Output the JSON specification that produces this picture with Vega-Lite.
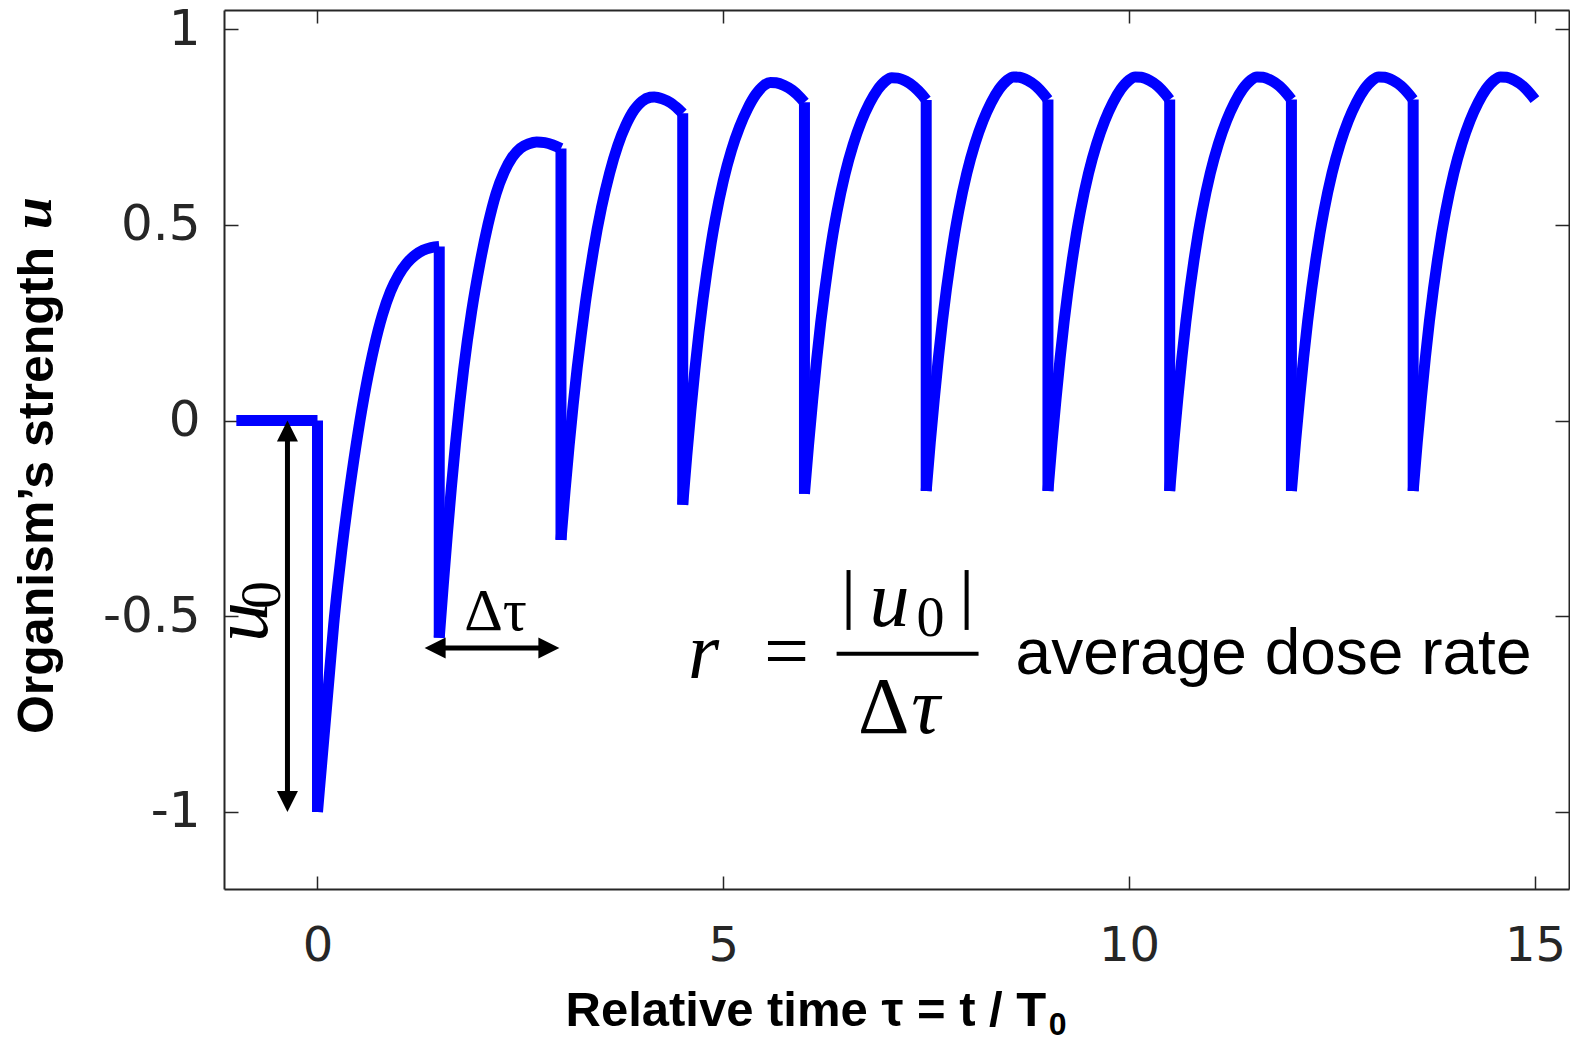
{
  "$schema": "https://vega.github.io/schema/vega-lite/v6.json",
  "width": 1345,
  "height": 879,
  "autosize": {"type": "none"},
  "padding": {"left": 224, "top": 10, "right": 1, "bottom": 152},
  "background": "white",
  "config": {"view": {"stroke": null}, "axis": {"grid": false}},
  "resolve": {"axis": {"x": "independent", "y": "independent"}},
  "layer": [
    {
      "data": {"values": [
        {"t":-1,"u":0,"s":0},{"t":0,"u":0,"s":0},
        {"t":0,"u":-1,"s":1},{"t":0.05,"u":-0.88,"s":1},{"t":0.1,"u":-0.76,"s":1},{"t":0.15,"u":-0.64,"s":1},{"t":0.2,"u":-0.52,"s":1},{"t":0.25,"u":-0.42,"s":1},{"t":0.3,"u":-0.33,"s":1},{"t":0.4,"u":-0.17,"s":1},{"t":0.5,"u":-0.03,"s":1},{"t":0.6,"u":0.09,"s":1},{"t":0.7,"u":0.19,"s":1},{"t":0.8,"u":0.27,"s":1},{"t":0.9,"u":0.33,"s":1},{"t":1.0,"u":0.372,"s":1},{"t":1.1,"u":0.402,"s":1},{"t":1.2,"u":0.422,"s":1},{"t":1.3,"u":0.435,"s":1},{"t":1.4,"u":0.442,"s":1},{"t":1.5,"u":0.445,"s":1},
        {"t":1.5,"u":-0.555,"s":2},{"t":1.55,"u":-0.42,"s":2},{"t":1.6,"u":-0.29,"s":2},{"t":1.65,"u":-0.17,"s":2},{"t":1.7,"u":-0.06,"s":2},{"t":1.75,"u":0.04,"s":2},{"t":1.8,"u":0.13,"s":2},{"t":1.9,"u":0.28,"s":2},{"t":2.0,"u":0.40,"s":2},{"t":2.1,"u":0.50,"s":2},{"t":2.2,"u":0.58,"s":2},{"t":2.3,"u":0.635,"s":2},{"t":2.4,"u":0.673,"s":2},{"t":2.5,"u":0.696,"s":2},{"t":2.6,"u":0.707,"s":2},{"t":2.7,"u":0.712,"s":2},{"t":2.8,"u":0.71,"s":2},{"t":2.9,"u":0.704,"s":2},{"t":3.0,"u":0.695,"s":2},
        {"t":3.0,"u":-0.305,"s":3},{"t":3.05,"u":-0.18,"s":3},{"t":3.1,"u":-0.065,"s":3},{"t":3.15,"u":0.04,"s":3},{"t":3.2,"u":0.135,"s":3},{"t":3.25,"u":0.22,"s":3},{"t":3.3,"u":0.30,"s":3},{"t":3.35,"u":0.37,"s":3},{"t":3.4,"u":0.435,"s":3},{"t":3.5,"u":0.545,"s":3},{"t":3.6,"u":0.633,"s":3},{"t":3.7,"u":0.703,"s":3},{"t":3.8,"u":0.755,"s":3},{"t":3.9,"u":0.793,"s":3},{"t":3.95,"u":0.806,"s":3},{"t":4.0,"u":0.816,"s":3},{"t":4.1,"u":0.826,"s":3},{"t":4.15,"u":0.827,"s":3},{"t":4.25,"u":0.822,"s":3},{"t":4.35,"u":0.812,"s":3},{"t":4.45,"u":0.795,"s":3},{"t":4.5,"u":0.785,"s":3},
        {"t":4.5,"u":-0.215,"s":4},{"t":4.55,"u":-0.09,"s":4},{"t":4.6,"u":0.025,"s":4},{"t":4.65,"u":0.13,"s":4},{"t":4.7,"u":0.225,"s":4},{"t":4.75,"u":0.31,"s":4},{"t":4.8,"u":0.385,"s":4},{"t":4.85,"u":0.453,"s":4},{"t":4.9,"u":0.513,"s":4},{"t":5.0,"u":0.613,"s":4},{"t":5.1,"u":0.69,"s":4},{"t":5.2,"u":0.75,"s":4},{"t":5.3,"u":0.797,"s":4},{"t":5.4,"u":0.833,"s":4},{"t":5.45,"u":0.846,"s":4},{"t":5.5,"u":0.856,"s":4},{"t":5.58,"u":0.864,"s":4},{"t":5.65,"u":0.863,"s":4},{"t":5.75,"u":0.856,"s":4},{"t":5.85,"u":0.844,"s":4},{"t":5.95,"u":0.825,"s":4},{"t":6.0,"u":0.813,"s":4},
        {"t":6.0,"u":-0.187,"s":5},{"t":6.05,"u":-0.063,"s":5},{"t":6.1,"u":0.05,"s":5},{"t":6.15,"u":0.155,"s":5},{"t":6.2,"u":0.25,"s":5},{"t":6.25,"u":0.333,"s":5},{"t":6.3,"u":0.408,"s":5},{"t":6.35,"u":0.475,"s":5},{"t":6.4,"u":0.533,"s":5},{"t":6.5,"u":0.63,"s":5},{"t":6.6,"u":0.705,"s":5},{"t":6.7,"u":0.764,"s":5},{"t":6.8,"u":0.81,"s":5},{"t":6.9,"u":0.845,"s":5},{"t":6.95,"u":0.858,"s":5},{"t":7.0,"u":0.868,"s":5},{"t":7.075,"u":0.876,"s":5},{"t":7.15,"u":0.875,"s":5},{"t":7.25,"u":0.867,"s":5},{"t":7.35,"u":0.853,"s":5},{"t":7.45,"u":0.832,"s":5},{"t":7.5,"u":0.819,"s":5},
        {"t":7.5,"u":-0.18,"s":6},{"t":7.55,"u":-0.056,"s":6},{"t":7.6,"u":0.056,"s":6},{"t":7.65,"u":0.16,"s":6},{"t":7.7,"u":0.254,"s":6},{"t":7.75,"u":0.337,"s":6},{"t":7.8,"u":0.411,"s":6},{"t":7.85,"u":0.477,"s":6},{"t":7.9,"u":0.535,"s":6},{"t":8.0,"u":0.632,"s":6},{"t":8.1,"u":0.707,"s":6},{"t":8.2,"u":0.766,"s":6},{"t":8.3,"u":0.812,"s":6},{"t":8.4,"u":0.847,"s":6},{"t":8.45,"u":0.86,"s":6},{"t":8.5,"u":0.87,"s":6},{"t":8.575,"u":0.878,"s":6},{"t":8.65,"u":0.877,"s":6},{"t":8.75,"u":0.869,"s":6},{"t":8.85,"u":0.855,"s":6},{"t":8.95,"u":0.833,"s":6},{"t":9.0,"u":0.82,"s":6},
        {"t":9.0,"u":-0.18,"s":7},{"t":9.05,"u":-0.056,"s":7},{"t":9.1,"u":0.056,"s":7},{"t":9.15,"u":0.16,"s":7},{"t":9.2,"u":0.254,"s":7},{"t":9.25,"u":0.337,"s":7},{"t":9.3,"u":0.411,"s":7},{"t":9.35,"u":0.477,"s":7},{"t":9.4,"u":0.535,"s":7},{"t":9.5,"u":0.632,"s":7},{"t":9.6,"u":0.707,"s":7},{"t":9.7,"u":0.766,"s":7},{"t":9.8,"u":0.812,"s":7},{"t":9.9,"u":0.847,"s":7},{"t":9.95,"u":0.86,"s":7},{"t":10.0,"u":0.87,"s":7},{"t":10.075,"u":0.878,"s":7},{"t":10.15,"u":0.877,"s":7},{"t":10.25,"u":0.869,"s":7},{"t":10.35,"u":0.855,"s":7},{"t":10.45,"u":0.833,"s":7},{"t":10.5,"u":0.82,"s":7},
        {"t":10.5,"u":-0.18,"s":8},{"t":10.55,"u":-0.056,"s":8},{"t":10.6,"u":0.056,"s":8},{"t":10.65,"u":0.16,"s":8},{"t":10.7,"u":0.254,"s":8},{"t":10.75,"u":0.337,"s":8},{"t":10.8,"u":0.411,"s":8},{"t":10.85,"u":0.477,"s":8},{"t":10.9,"u":0.535,"s":8},{"t":11.0,"u":0.632,"s":8},{"t":11.1,"u":0.707,"s":8},{"t":11.2,"u":0.766,"s":8},{"t":11.3,"u":0.812,"s":8},{"t":11.4,"u":0.847,"s":8},{"t":11.45,"u":0.86,"s":8},{"t":11.5,"u":0.87,"s":8},{"t":11.575,"u":0.878,"s":8},{"t":11.65,"u":0.877,"s":8},{"t":11.75,"u":0.869,"s":8},{"t":11.85,"u":0.855,"s":8},{"t":11.95,"u":0.833,"s":8},{"t":12.0,"u":0.82,"s":8},
        {"t":12.0,"u":-0.18,"s":9},{"t":12.05,"u":-0.056,"s":9},{"t":12.1,"u":0.056,"s":9},{"t":12.15,"u":0.16,"s":9},{"t":12.2,"u":0.254,"s":9},{"t":12.25,"u":0.337,"s":9},{"t":12.3,"u":0.411,"s":9},{"t":12.35,"u":0.477,"s":9},{"t":12.4,"u":0.535,"s":9},{"t":12.5,"u":0.632,"s":9},{"t":12.6,"u":0.707,"s":9},{"t":12.7,"u":0.766,"s":9},{"t":12.8,"u":0.812,"s":9},{"t":12.9,"u":0.847,"s":9},{"t":12.95,"u":0.86,"s":9},{"t":13.0,"u":0.87,"s":9},{"t":13.075,"u":0.878,"s":9},{"t":13.15,"u":0.877,"s":9},{"t":13.25,"u":0.869,"s":9},{"t":13.35,"u":0.855,"s":9},{"t":13.45,"u":0.833,"s":9},{"t":13.5,"u":0.82,"s":9},
        {"t":13.5,"u":-0.18,"s":10},{"t":13.55,"u":-0.056,"s":10},{"t":13.6,"u":0.056,"s":10},{"t":13.65,"u":0.16,"s":10},{"t":13.7,"u":0.254,"s":10},{"t":13.75,"u":0.337,"s":10},{"t":13.8,"u":0.411,"s":10},{"t":13.85,"u":0.477,"s":10},{"t":13.9,"u":0.535,"s":10},{"t":14.0,"u":0.632,"s":10},{"t":14.1,"u":0.707,"s":10},{"t":14.2,"u":0.766,"s":10},{"t":14.3,"u":0.812,"s":10},{"t":14.4,"u":0.847,"s":10},{"t":14.45,"u":0.86,"s":10},{"t":14.5,"u":0.87,"s":10},{"t":14.575,"u":0.878,"s":10},{"t":14.65,"u":0.877,"s":10},{"t":14.75,"u":0.869,"s":10},{"t":14.85,"u":0.855,"s":10},{"t":14.95,"u":0.833,"s":10},{"t":15.0,"u":0.82,"s":10}
      ]},
      "mark": {"type": "line", "color": "#0000ff", "strokeWidth": 11, "interpolate": "monotone", "strokeCap": "butt", "strokeJoin": "round"},
      "encoding": {
        "x": {"field": "t", "type": "quantitative", "scale": {"domain": [-1.152, 15.42], "nice": false, "zero": false},
          "axis": {"orient": "bottom", "values": [0, 5, 10, 15], "grid": false, "domain": true, "domainColor": "#262626", "domainWidth": 2, "ticks": true, "tickSize": -13, "tickWidth": 1.5, "tickColor": "#262626", "labelFont": "DejaVu Sans", "labelFontSize": 48, "labelColor": "#262626", "labelPadding": 46, "labelFlush": false, "labelOverlap": false, "format": "d",
            "title": "Relative time τ = t / T", "titleFont": "Liberation Sans", "titleFontSize": 49, "titleFontWeight": "bold", "titleColor": "#000000", "titleX": 341, "titleY": 136, "titleAlign": "left", "titleBaseline": "alphabetic", "titleAngle": 0}},
        "y": {"field": "u", "type": "quantitative", "scale": {"domain": [-1.197, 1.049], "nice": false, "zero": false},
          "axis": {"orient": "left", "values": [-1, -0.5, 0, 0.5, 1], "labelExpr": "toString(datum.value)", "grid": false, "domain": true, "domainColor": "#262626", "domainWidth": 2, "ticks": true, "tickSize": -14, "tickWidth": 1.5, "tickColor": "#262626", "labelFont": "DejaVu Sans", "labelFontSize": 50, "labelColor": "#262626", "labelPadding": 38, "labelOverlap": false, "labelFlush": false,
            "title": "Organism’s strength", "titleFont": "Liberation Sans", "titleFontSize": 50, "titleFontWeight": "bold", "titleColor": "#000000", "titleX": -172, "titleY": 480, "titleAngle": 270, "titleAlign": "center", "titleBaseline": "alphabetic"}},
        "detail": {"field": "s", "type": "nominal"}
      }
    },
    {
      "data": {"values": [
        {"t": 0, "u": 0, "u2": -1},
        {"t": 1.5, "u": 0.445, "u2": -0.555},
        {"t": 3.0, "u": 0.695, "u2": -0.305},
        {"t": 4.5, "u": 0.785, "u2": -0.215},
        {"t": 6.0, "u": 0.813, "u2": -0.187},
        {"t": 7.5, "u": 0.819, "u2": -0.18},
        {"t": 9.0, "u": 0.82, "u2": -0.18},
        {"t": 10.5, "u": 0.82, "u2": -0.18},
        {"t": 12.0, "u": 0.82, "u2": -0.18},
        {"t": 13.5, "u": 0.82, "u2": -0.18}
      ]},
      "mark": {"type": "rule", "color": "#0000ff", "strokeWidth": 11, "strokeCap": "butt"},
      "encoding": {
        "x": {"field": "t", "type": "quantitative", "scale": {"domain": [-1.152, 15.42], "nice": false, "zero": false},
          "axis": {"orient": "top", "values": [0, 5, 10, 15], "labels": false, "title": null, "grid": false, "domain": true, "domainColor": "#262626", "domainWidth": 2, "ticks": true, "tickSize": -13, "tickWidth": 1.5, "tickColor": "#262626"}},
        "y": {"field": "u", "type": "quantitative", "scale": {"domain": [-1.197, 1.049], "nice": false, "zero": false},
          "axis": {"orient": "right", "values": [-1, -0.5, 0, 0.5, 1], "labels": false, "title": null, "grid": false, "domain": true, "domainColor": "#262626", "domainWidth": 2, "ticks": true, "tickSize": -14, "tickWidth": 1.5, "tickColor": "#262626"}},
        "y2": {"field": "u2"}
      }
    },
    {
      "data": {"values": [
        {"t": -0.37, "t2": -0.37, "u": -0.026, "u2": -0.974},
        {"t": 1.443, "t2": 2.857, "u": -0.581, "u2": -0.581}
      ]},
      "mark": {"type": "rule", "color": "#000000", "strokeWidth": 5, "strokeCap": "butt"},
      "encoding": {
        "x": {"field": "t", "type": "quantitative", "scale": {"domain": [-1.152, 15.42], "nice": false, "zero": false}, "axis": null},
        "x2": {"field": "t2"},
        "y": {"field": "u", "type": "quantitative", "scale": {"domain": [-1.197, 1.049], "nice": false, "zero": false}, "axis": null},
        "y2": {"field": "u2"}
      }
    },
    {
      "data": {"values": [
        {"t": 6.396, "t2": 8.145, "u": -0.596, "u2": -0.596},
        {"t": 6.543, "t2": 6.543, "u": -0.382, "u2": -0.535},
        {"t": 7.998, "t2": 7.998, "u": -0.382, "u2": -0.535}
      ]},
      "mark": {"type": "rule", "color": "#000000", "strokeWidth": 4, "strokeCap": "butt"},
      "encoding": {
        "x": {"field": "t", "type": "quantitative", "scale": {"domain": [-1.152, 15.42], "nice": false, "zero": false}, "axis": null},
        "x2": {"field": "t2"},
        "y": {"field": "u", "type": "quantitative", "scale": {"domain": [-1.197, 1.049], "nice": false, "zero": false}, "axis": null},
        "y2": {"field": "u2"}
      }
    },
    {
      "data": {"values": [
        {"t": -0.37, "u": 0, "dir": "up"},
        {"t": -0.37, "u": -1, "dir": "down"},
        {"t": 1.32, "u": -0.581, "dir": "left"},
        {"t": 2.98, "u": -0.581, "dir": "right"}
      ]},
      "mark": {"type": "point", "filled": true, "color": "#000000", "opacity": 1, "size": 441, "strokeWidth": 0},
      "encoding": {
        "x": {"field": "t", "type": "quantitative", "scale": {"domain": [-1.152, 15.42], "nice": false, "zero": false}, "axis": null},
        "y": {"field": "u", "type": "quantitative", "scale": {"domain": [-1.197, 1.049], "nice": false, "zero": false}, "axis": null},
        "shape": {"field": "dir", "type": "nominal", "legend": null,
          "scale": {"domain": ["up", "down", "left", "right"], "range": ["M0,0L1,2L-1,2Z", "M0,0L1,-2L-1,-2Z", "M0,0L2,-1L2,1Z", "M0,0L-2,-1L-2,1Z"]}}
      }
    },
    {
      "data": {"values": [
        {"t": 4.757, "u": -0.658, "txt": "r"},
        {"t": 7.049, "u": -0.525, "txt": "u"},
        {"t": 7.492, "u": -0.798, "txt": "τ"}
      ]},
      "mark": {"type": "text", "font": "Liberation Serif", "fontStyle": "italic", "fontSize": 80, "color": "#000000", "align": "center", "baseline": "alphabetic"},
      "encoding": {
        "x": {"field": "t", "type": "quantitative", "scale": {"domain": [-1.152, 15.42], "nice": false, "zero": false}, "axis": null},
        "y": {"field": "u", "type": "quantitative", "scale": {"domain": [-1.197, 1.049], "nice": false, "zero": false}, "axis": null},
        "text": {"field": "txt"}
      }
    },
    {
      "data": {"values": [
        {"t": 5.779, "u": -0.658, "txt": "="},
        {"t": 6.975, "u": -0.798, "txt": "Δ"}
      ]},
      "mark": {"type": "text", "font": "Liberation Serif", "fontSize": 80, "color": "#000000", "align": "center", "baseline": "alphabetic"},
      "encoding": {
        "x": {"field": "t", "type": "quantitative", "scale": {"domain": [-1.152, 15.42], "nice": false, "zero": false}, "axis": null},
        "y": {"field": "u", "type": "quantitative", "scale": {"domain": [-1.197, 1.049], "nice": false, "zero": false}, "axis": null},
        "text": {"field": "txt"}
      }
    },
    {
      "data": {"values": [
        {"t": 7.554, "u": -0.55, "txt": "0"}
      ]},
      "mark": {"type": "text", "font": "Liberation Serif", "fontSize": 56, "color": "#000000", "align": "center", "baseline": "alphabetic"},
      "encoding": {
        "x": {"field": "t", "type": "quantitative", "scale": {"domain": [-1.152, 15.42], "nice": false, "zero": false}, "axis": null},
        "y": {"field": "u", "type": "quantitative", "scale": {"domain": [-1.197, 1.049], "nice": false, "zero": false}, "axis": null},
        "text": {"field": "txt"}
      }
    },
    {
      "data": {"values": [
        {"t": 2.193, "u": -0.535, "txt": "Δτ"}
      ]},
      "mark": {"type": "text", "font": "Liberation Serif", "fontSize": 60, "color": "#000000", "align": "center", "baseline": "alphabetic"},
      "encoding": {
        "x": {"field": "t", "type": "quantitative", "scale": {"domain": [-1.152, 15.42], "nice": false, "zero": false}, "axis": null},
        "y": {"field": "u", "type": "quantitative", "scale": {"domain": [-1.197, 1.049], "nice": false, "zero": false}, "axis": null},
        "text": {"field": "txt"}
      }
    },
    {
      "data": {"values": [
        {"t": -0.628, "u": -0.515, "txt": "u"}
      ]},
      "mark": {"type": "text", "font": "Liberation Serif", "fontStyle": "italic", "fontSize": 80, "color": "#000000", "align": "center", "baseline": "alphabetic", "angle": 270},
      "encoding": {
        "x": {"field": "t", "type": "quantitative", "scale": {"domain": [-1.152, 15.42], "nice": false, "zero": false}, "axis": null},
        "y": {"field": "u", "type": "quantitative", "scale": {"domain": [-1.197, 1.049], "nice": false, "zero": false}, "axis": null},
        "text": {"field": "txt"}
      }
    },
    {
      "data": {"values": [
        {"t": -0.456, "u": -0.446, "txt": "0"}
      ]},
      "mark": {"type": "text", "font": "Liberation Serif", "fontSize": 56, "color": "#000000", "align": "center", "baseline": "alphabetic", "angle": 270},
      "encoding": {
        "x": {"field": "t", "type": "quantitative", "scale": {"domain": [-1.152, 15.42], "nice": false, "zero": false}, "axis": null},
        "y": {"field": "u", "type": "quantitative", "scale": {"domain": [-1.197, 1.049], "nice": false, "zero": false}, "axis": null},
        "text": {"field": "txt"}
      }
    },
    {
      "data": {"values": [
        {"t": 8.601, "u": -0.648, "txt": "average dose rate"}
      ]},
      "mark": {"type": "text", "font": "Liberation Sans", "fontSize": 64, "color": "#000000", "align": "left", "baseline": "alphabetic"},
      "encoding": {
        "x": {"field": "t", "type": "quantitative", "scale": {"domain": [-1.152, 15.42], "nice": false, "zero": false}, "axis": null},
        "y": {"field": "u", "type": "quantitative", "scale": {"domain": [-1.197, 1.049], "nice": false, "zero": false}, "axis": null},
        "text": {"field": "txt"}
      }
    },
    {
      "data": {"values": [
        {"t": -3.278, "u": 0.53, "txt": "u"}
      ]},
      "mark": {"type": "text", "font": "Liberation Serif", "fontStyle": "italic", "fontWeight": "bold", "fontSize": 58, "color": "#000000", "align": "center", "baseline": "alphabetic", "angle": 270},
      "encoding": {
        "x": {"field": "t", "type": "quantitative", "scale": {"domain": [-1.152, 15.42], "nice": false, "zero": false}, "axis": null},
        "y": {"field": "u", "type": "quantitative", "scale": {"domain": [-1.197, 1.049], "nice": false, "zero": false}, "axis": null},
        "text": {"field": "txt"}
      }
    },
    {
      "data": {"values": [
        {"t": 9.12, "u": -1.57, "txt": "0"}
      ]},
      "mark": {"type": "text", "font": "Liberation Sans", "fontWeight": "bold", "fontSize": 32, "color": "#000000", "align": "center", "baseline": "alphabetic"},
      "encoding": {
        "x": {"field": "t", "type": "quantitative", "scale": {"domain": [-1.152, 15.42], "nice": false, "zero": false}, "axis": null},
        "y": {"field": "u", "type": "quantitative", "scale": {"domain": [-1.197, 1.049], "nice": false, "zero": false}, "axis": null},
        "text": {"field": "txt"}
      }
    }
  ]
}
